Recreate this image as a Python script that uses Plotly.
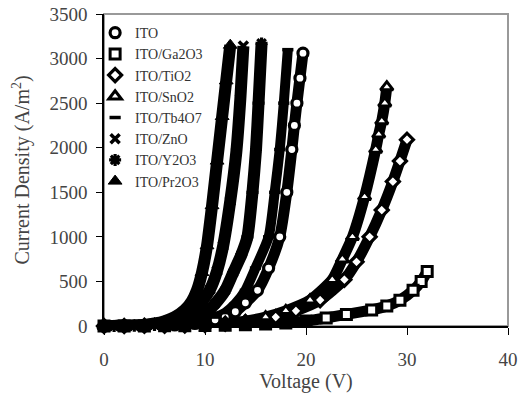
import plotly.graph_objects as go

# ---- data ----
series_names = ["ITO", "ITO/Ga2O3", "ITO/TiO2", "ITO/SnO2", "ITO/Tb4O7", "ITO/ZnO", "ITO/Y2O3", "ITO/Pr2O3"]

ito_v = [0, 2, 4, 6, 7, 8, 9, 10, 11, 12, 13, 14, 15.2, 16.3, 17.4, 18.1, 18.6, 18.85, 19.1, 19.4, 19.7]
ito_j = [0, 1, 3, 7, 11, 17, 28, 45, 70, 100, 160, 260, 400, 650, 1000, 1500, 1980, 2250, 2500, 2780, 3060]

ga2o3_v = [0, 2, 4, 6, 8, 10, 12, 14, 16, 18, 20, 22, 24, 26.5, 28, 29.3, 30.6, 31.4, 32.0]
ga2o3_j = [0, 1, 1, 2, 3, 5, 8, 13, 22, 35, 55, 90, 130, 180, 225, 290, 400, 500, 610]

tio2_v = [0, 2, 4, 6, 8, 10, 12, 14, 17, 19, 21.4, 23.8, 25.0, 26.3, 27.5, 28.6, 29.3, 30.0]
tio2_j = [0, 1, 2, 3, 6, 12, 25, 45, 100, 170, 290, 520, 720, 1000, 1300, 1620, 1850, 2090]

sno2_v = [0, 2, 4, 6, 8, 10, 12, 14, 16, 18, 20.4, 22.6, 23.6, 24.6, 25.8, 26.9, 27.2, 27.5, 27.8, 28.0]
sno2_j = [0, 1, 2, 4, 8, 15, 30, 55, 100, 170, 290, 520, 750, 1000, 1450, 1980, 2150, 2300, 2500, 2680]

tb4o7_v = [0, 1, 2, 3, 4, 5, 6, 7, 8, 9, 10, 11, 12, 13, 14, 15, 16.3, 16.9, 17.4, 17.8, 18.2]
tb4o7_j = [0, 1, 2, 3, 5, 8, 14, 22, 35, 55, 75, 100, 150, 250, 400, 650, 1000, 1500, 1980, 2500, 3100]

zno_v = [0, 1, 2, 3, 4, 5, 6, 7, 8, 9, 9.8, 10.5, 11.2, 11.8, 12.5, 13.1, 13.5, 13.8]
zno_j = [0, 1, 2, 4, 9, 20, 40, 70, 110, 190, 290, 410, 620, 900, 1400, 1950, 2550, 3140]

y2o3_v = [0, 1, 2, 3, 4, 5, 6, 7, 8, 9, 10, 11, 12, 12.8, 13.6, 14.2, 14.7, 15.05, 15.3, 15.6]
y2o3_j = [0, 1, 2, 3, 6, 12, 25, 45, 70, 95, 140, 250, 400, 600, 800, 1000, 1500, 1980, 2500, 3170]

pr2o3_v = [0, 1, 2, 3, 4, 5, 6, 7, 8, 8.7, 9.2, 9.7, 10.2, 10.7, 11.2, 11.7, 12.1, 12.5]
pr2o3_j = [0, 1, 2, 5, 12, 28, 55, 100, 180, 280, 400, 600, 900, 1350, 1850, 2350, 2750, 3150]

x_ticks = [0, 10, 20, 30, 40]
y_ticks = [0, 500, 1000, 1500, 2000, 2500, 3000, 3500]

# ---- styles ----
data = [(ito_v, ito_j), (ga2o3_v, ga2o3_j), (tio2_v, tio2_j), (sno2_v, sno2_j),
        (tb4o7_v, tb4o7_j), (zno_v, zno_j), (y2o3_v, y2o3_j), (pr2o3_v, pr2o3_j)]
styles = [
    dict(symbol="circle", size=10, hollow=True, lw=3.2),
    dict(symbol="square", size=10, hollow=True, lw=3.0),
    dict(symbol="diamond", size=10, hollow=True, lw=3.2),
    dict(symbol="triangle-up", size=11, hollow=True, lw=3.0),
    dict(symbol="line-ew", size=8, hollow=False, lw=3.5),
    dict(symbol="x-thin", size=9, hollow=False, lw=3.5),
    dict(symbol="asterisk", size=10, hollow=False, lw=3.2),
    dict(symbol="triangle-up", size=12, hollow=False, lw=1),
]
band_w = [11, 11, 11, 11, 10, 12, 12, 12]

serif = "Liberation Serif, Times New Roman, serif"
fig = go.Figure()

# thick bands formed by the dense measured points
for (v, j), w in zip(data, band_w):
    fig.add_trace(go.Scatter(x=v, y=j, mode="lines", showlegend=False, hoverinfo="skip",
                             line=dict(color="black", width=w, shape="spline", smoothing=0.6)))

# markers (legend entries); drawn from the top point down so the legend symbol
# takes the style of the end-of-curve marker
for name, (v, j), st in zip(series_names, data, styles):
    vv, jj = v[::-1], j[::-1]
    if st["hollow"]:
        fill = ["white" if y >= 60 else "black" for y in jj]
    else:
        fill = "black"
    fig.add_trace(go.Scatter(x=vv, y=jj, mode="markers", name=name, cliponaxis=False,
                             marker=dict(symbol=st["symbol"], size=st["size"], color=fill,
                                         line=dict(color="black", width=st["lw"]))))

fig.update_layout(
    width=522, height=394,
    margin=dict(l=104, r=14, t=14, b=68, autoexpand=False),
    paper_bgcolor="white", plot_bgcolor="white",
    font=dict(family=serif, color="#333", size=14),
    showlegend=True,
    legend=dict(x=-0.022, y=0.99, xanchor="left", yanchor="top", bgcolor="rgba(0,0,0,0)",
                font=dict(family=serif, size=14, color="#333"), itemwidth=30, tracegroupgap=0),
    xaxis=dict(range=[0, 40], tickvals=x_ticks, ticks="outside", ticklen=7, tickcolor="black",
               showline=True, linecolor="black", linewidth=1.5, showgrid=False, zeroline=False,
               automargin=False, ticklabelstandoff=8,
               title=dict(text="Voltage (V)", font=dict(family=serif, size=20, color="#444"), standoff=4),
               tickfont=dict(family=serif, size=19, color="#444")),
    yaxis=dict(range=[0, 3500], tickvals=y_ticks, ticks="outside", ticklen=6, tickcolor="black",
               showline=True, linecolor="black", linewidth=1.5, showgrid=False, zeroline=False,
               automargin=False, ticklabelstandoff=5,
               title=dict(text="Current Density (A/m<sup>2</sup>)", font=dict(family=serif, size=20, color="#444"), standoff=14),
               tickfont=dict(family=serif, size=19, color="#444")),
    shapes=[dict(type="rect", xref="paper", yref="paper", x0=0, x1=1, y0=0, y1=1,
                 line=dict(color="#999", width=2), layer="below")],
)

fig.write_html("out.html")
